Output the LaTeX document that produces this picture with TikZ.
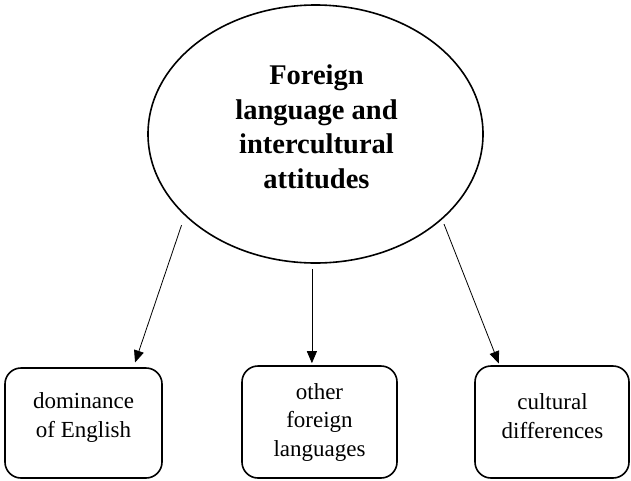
\documentclass[tikz,border=0pt]{standalone}
\usepackage{fontspec}
\setmainfont{Liberation Serif}
\usepackage{tikz}
\usetikzlibrary{shapes.geometric, arrows.meta, calc}

\begin{document}
\begin{tikzpicture}[x=1pt, y=-1pt,
    topic/.style={draw, ellipse, line width=1.6pt},
    topictext/.style={align=center, font=\fontsize{28.5}{34.5}\selectfont\bfseries},
    leaf/.style={draw, rounded corners=16pt, line width=1.6pt},
    leaftext/.style={align=center, font=\fontsize{23}{28.5}\selectfont},
    arr/.style={-{Triangle[length=12pt, width=10pt]}, line width=0.8pt}]
    \useasboundingbox (0, 0) rectangle (631, 480);

    \node[topic, minimum width=335pt, minimum height=258pt] at (315.5, 134) (top) {};
    \node[topictext] at (316.5, 127) (toptxt) {Foreign\\language and\\intercultural\\attitudes};

    \node[leaf, minimum width=157pt, minimum height=110pt] at (83.5, 423) (dom) {};
    \node[leaf, minimum width=155pt, minimum height=112pt] at (319.5, 422) (oth) {};
    \node[leaf, minimum width=154pt, minimum height=112pt] at (552, 422) (cul) {};

    \node[leaftext] at (83.5, 417.5) (domtxt) {dominance\\of English};
    \node[leaftext] at (319.5, 422) (othtxt) {other\\foreign\\languages};
    \node[leaftext] at (552.5, 416) (cultxt) {cultural\\differences};

    \coordinate (e1) at ($(dom.north)!0.63!(dom.north east)$);
    \coordinate (e2) at ($(oth.north)!0.097!(oth.north west)$);
    \coordinate (e3) at ($(cul.north)!0.675!(cul.north west)$);

    \draw[arr, shorten <=10pt, shorten >=5pt] (top.212) -- (e1);
    \draw[arr, shorten <=5pt, shorten >=2pt] (top.south -| e2) -- (e2);
    \draw[arr, shorten <=5pt, shorten >=2pt] (top.326) -- (e3);
\end{tikzpicture}
\end{document}
